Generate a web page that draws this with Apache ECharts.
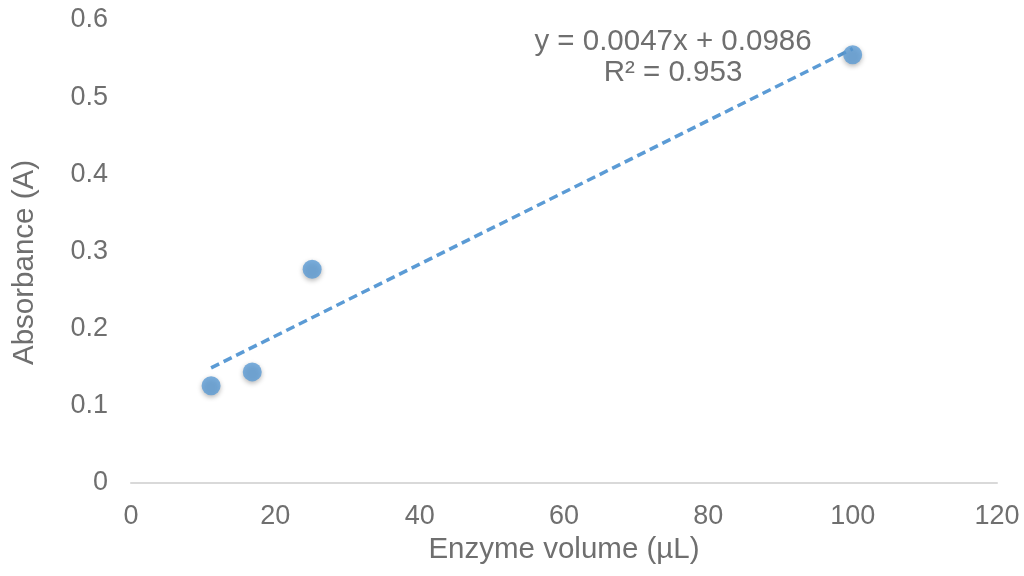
<!DOCTYPE html>
<html>
<head>
<meta charset="utf-8">
<script src="https://cdn.jsdelivr.net/npm/echarts@6/dist/echarts.min.js"></script>
<style>html,body{margin:0;padding:0;background:#fff}#c{width:1024px;height:576px}</style>
</head>
<body>
<div id="c"></div>
<script>
const xValues = [11.1, 16.8, 25.1, 100];
const yValues = [0.126, 0.144, 0.277, 0.555];
const equationLines = ['y = 0.0047x + 0.0986', 'R² = 0.953'];
const xTitle = 'Enzyme volume (µL)';
const yTitle = 'Absorbance (A)';

const points = xValues.map((x, i) => [x, yValues[i]]);
// least-squares linear trendline through the data, spanning the data's x range
const n = xValues.length;
const mx = xValues.reduce((a, b) => a + b, 0) / n;
const my = yValues.reduce((a, b) => a + b, 0) / n;
let sxx = 0, sxy = 0;
xValues.forEach((x, i) => { sxx += (x - mx) * (x - mx); sxy += (x - mx) * (yValues[i] - my); });
const slope = sxy / sxx, intercept = my - slope * mx;
const trend = [Math.min(...xValues), Math.max(...xValues)].map(x => [x, slope * x + intercept]);

const gray = '#6f6f6f';
const blue = '#5b9bd5';
const ff = '"Liberation Sans", Arial, sans-serif';

const chart = echarts.init(document.getElementById('c'));
chart.setOption({
  animation: false,
  grid: { left: 131, right: 27, top: 20, bottom: 93 },
  xAxis: {
    type: 'value', min: 0, max: 120, interval: 20,
    name: xTitle, nameLocation: 'middle', nameGap: 49,
    nameTextStyle: { color: gray, fontSize: 29.5, fontFamily: ff },
    axisLine: { show: true, onZero: false, lineStyle: { color: '#d9d9d9', width: 2 } },
    axisTick: { show: false },
    splitLine: { show: false },
    axisLabel: { color: gray, fontSize: 27, fontFamily: ff, margin: 20 }
  },
  yAxis: {
    type: 'value', min: 0, max: 0.6, interval: 0.1,
    name: yTitle, nameLocation: 'middle', nameGap: 91,
    nameTextStyle: { color: gray, fontSize: 29.5, fontFamily: ff, padding: [0, 22, 0, 0] },
    axisLine: { show: false },
    axisTick: { show: false },
    splitLine: { show: false },
    axisLabel: { color: gray, fontSize: 27, fontFamily: ff, margin: 23,
      formatter: v => String(Math.round(v * 10) / 10) }
  },
  series: [
    {
      type: 'line', data: trend, symbol: 'none', z: 1,
      lineStyle: { color: blue, width: 3.5, type: [9, 5] }
    },
    {
      type: 'scatter', data: points, symbol: 'circle', symbolSize: 19, z: 2,
      itemStyle: { color: blue, shadowColor: 'rgba(0,0,0,0.35)', shadowBlur: 5, shadowOffsetY: 2 }
    }
  ],
  graphic: equationLines.map((t, i) => ({
    type: 'text', x: 673, y: 42 + i * 31,
    style: {
      text: t, fill: gray, font: '29.5px ' + ff,
      textAlign: 'center', textVerticalAlign: 'middle'
    }
  }))
});
</script>
</body>
</html>
